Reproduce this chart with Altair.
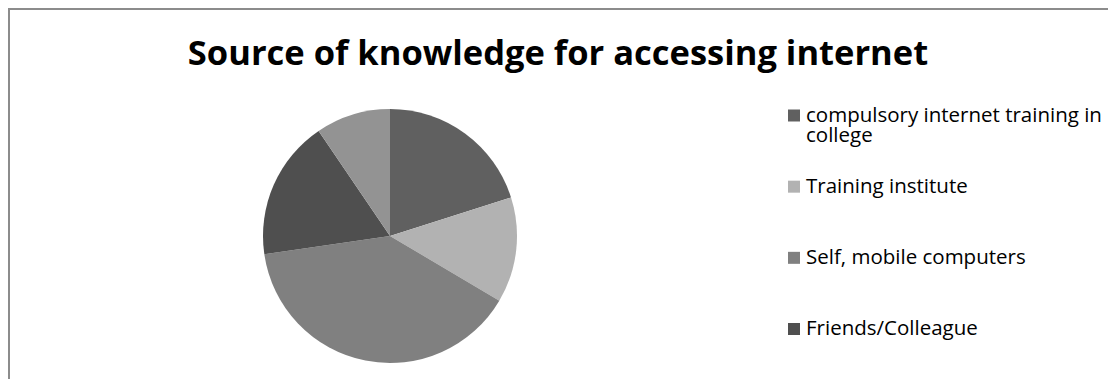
import altair as alt
import pandas as pd

title_text = "Source of knowledge for accessing internet"
categories = [
    "compulsory internet training in college",
    "Training institute",
    "Self, mobile computers",
    "Friends/Colleague",
    "Others",
]
shares = [20.1, 13.4, 39.2, 17.8, 9.5]
colors = ["#606060", "#b2b2b2", "#808080", "#4f4f4f", "#939393"]
legend_entries = categories[:4]

df = pd.DataFrame({"source": categories, "share": shares, "order": list(range(len(categories)))})
legend_df = pd.DataFrame({"source": legend_entries})

W, H = 1100, 371
FONT = "Open Sans"

color_scale = alt.Scale(domain=categories, range=colors)
legend_y = alt.Y(
    "source:N",
    scale=alt.Scale(type="point", domain=legend_entries, range=[107.5, 321], padding=0),
    axis=None,
)

pie = alt.Chart(df).mark_arc(radius=127).encode(
    theta=alt.Theta("share:Q", stack=True),
    order=alt.Order("order:Q"),
    color=alt.Color("source:N", sort=categories, scale=color_scale, legend=None),
    x=alt.value(382),
    y=alt.value(228),
)

legend_squares = alt.Chart(legend_df).mark_square(size=144, opacity=1).encode(
    x=alt.value(786),
    y=legend_y,
    color=alt.Color("source:N", scale=color_scale, legend=None),
)

legend_text = alt.Chart(legend_df).transform_calculate(
    lines="datum.source == 'compulsory internet training in college' ? "
    "['compulsory internet training in', 'college'] : [datum.source]"
).mark_text(
    font=FONT, fontSize=20.5, color="#000000", align="left", baseline="alphabetic", dy=6, lineHeight=20
).encode(
    x=alt.value(798),
    y=legend_y,
    text=alt.Text("lines:N"),
)

title = alt.Chart(pd.DataFrame({"t": [title_text]})).mark_text(
    font=FONT, fontSize=34.5, fontWeight="bold", color="#000000", align="center", baseline="alphabetic"
).encode(text="t:N", x=alt.value(W / 2), y=alt.value(57))

border_top = alt.Chart(pd.DataFrame({"a": [0]})).mark_rule(color="#8c8c8c", strokeWidth=2).encode(
    x=alt.value(0), x2=alt.value(W), y=alt.value(1)
)
border_left = alt.Chart(pd.DataFrame({"a": [0]})).mark_rule(color="#8c8c8c", strokeWidth=2).encode(
    x=alt.value(1), y=alt.value(0), y2=alt.value(H)
)

chart = alt.layer(pie, legend_squares, legend_text, title, border_top, border_left).properties(
    width=W, height=H, autosize=alt.AutoSizeParams(type="none"), padding=0, background="white"
).configure_view(stroke=None)

chart.save("out.html", embed_options={"renderer": "svg", "actions": False})
